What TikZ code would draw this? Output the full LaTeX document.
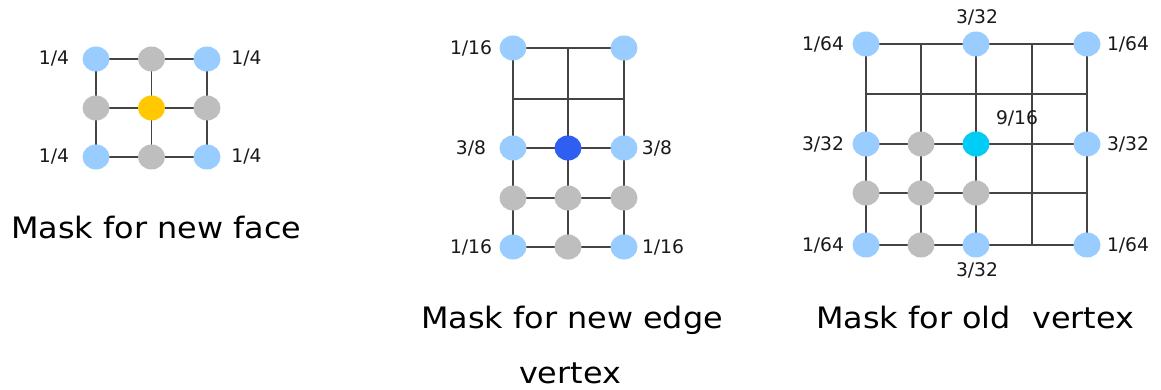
\documentclass[tikz,border=0pt]{standalone}
\usepackage{fontspec}
\setmainfont{DejaVu Sans}
\usetikzlibrary{shapes.geometric}
\definecolor{lb}{HTML}{99CCFF}
\definecolor{gr}{HTML}{BEBEBE}
\definecolor{og}{HTML}{FFC800}
\definecolor{db}{HTML}{2F5FF0}
\definecolor{cy}{HTML}{00CCF5}
\definecolor{ln}{HTML}{444444}
\newcommand{\captxt}[1]{\scalebox{1.08}[1]{#1}}
\begin{document}
\begin{tikzpicture}[x=1pt,y=-1pt,
  vtx/.style={ellipse,minimum width=27pt,minimum height=25pt,inner sep=0pt},
  bpt/.style={vtx,fill=lb},
  gpt/.style={vtx,fill=gr},
  opt/.style={vtx,fill=og},
  dpt/.style={vtx,fill=db},
  cpt/.style={vtx,fill=cy},
  gridline/.style={draw=ln,line width=1.8pt},
  lbl/.style={font=\fontsize{18.7}{22}\selectfont,text=black!90,inner sep=0pt},
  captext/.style={font=\fontsize{29.5}{34}\selectfont,inner sep=0pt,anchor=base west}]
\useasboundingbox (0,0) rectangle (1161,390);
% ---------- panel 1 ----------
\foreach \i/\x in {1/96,2/151.5,3/207}
  \foreach \j/\y in {1/59,2/108,3/157}
    \coordinate (f\i\j) at (\x,\y);
\foreach \j in {1,2,3} {\draw[gridline] (f1\j) -- (f3\j);}
\foreach \i in {1,2,3} {\draw[gridline] (f\i1) -- (f\i3);}
\node[bpt] (fn11) at (f11) {};
\node[gpt] (fn21) at (f21) {};
\node[bpt] (fn31) at (f31) {};
\node[gpt] (fn12) at (f12) {};
\node[opt] (fn22) at (f22) {};
\node[gpt] (fn32) at (f32) {};
\node[bpt] (fn13) at (f13) {};
\node[gpt] (fn23) at (f23) {};
\node[bpt] (fn33) at (f33) {};
\node[lbl] (fl1) at (54,59) {1/4};
\node[lbl] (fl2) at (246.5,59) {1/4};
\node[lbl] (fl3) at (54,157) {1/4};
\node[lbl] (fl4) at (246.5,157) {1/4};
\node[captext] (fcap) at (11,238) {\captxt{Mask for new face}};
% ---------- panel 2 ----------
\foreach \i/\x in {1/513,2/568,3/624}
  \foreach \j/\y in {1/48,2/99,3/148,4/198,5/247}
    \coordinate (e\i\j) at (\x,\y);
\foreach \j in {1,2,3,4,5} {\draw[gridline] (e1\j) -- (e3\j);}
\foreach \i in {1,2,3} {\draw[gridline] (e\i1) -- (e\i5);}
\node[bpt] (en11) at (e11) {};
\node[bpt] (en31) at (e31) {};
\node[bpt] (en13) at (e13) {};
\node[dpt] (en23) at (e23) {};
\node[bpt] (en33) at (e33) {};
\node[gpt] (en14) at (e14) {};
\node[gpt] (en24) at (e24) {};
\node[gpt] (en34) at (e34) {};
\node[bpt] (en15) at (e15) {};
\node[gpt] (en25) at (e25) {};
\node[bpt] (en35) at (e35) {};
\node[lbl] (el1) at (471,48) {1/16};
\node[lbl] (el2) at (471,148) {3/8};
\node[lbl] (el3) at (657,148) {3/8};
\node[lbl] (el4) at (471,247) {1/16};
\node[lbl] (el5) at (663,247) {1/16};
\node[captext] (ecap1) at (421,328) {\captxt{Mask for new edge}};
\node[captext,anchor=base] (ecap2) at (570,383) {\captxt{vertex}};
% ---------- panel 3 ----------
\foreach \i/\x in {1/866,2/921,3/976,4/1032,5/1087}
  \foreach \j/\y in {1/44,2/94,3/144,4/193,5/245}
    \coordinate (v\i\j) at (\x,\y);
\foreach \j in {1,2,3,4,5} {\draw[gridline] (v1\j) -- (v5\j);}
\foreach \i in {1,2,3,4,5} {\draw[gridline] (v\i1) -- (v\i5);}
\node[bpt] (vn11) at (v11) {};
\node[bpt] (vn31) at (v31) {};
\node[bpt] (vn51) at (v51) {};
\node[bpt] (vn13) at (v13) {};
\node[gpt] (vn23) at (v23) {};
\node[cpt] (vn33) at (v33) {};
\node[bpt] (vn53) at (v53) {};
\node[gpt] (vn14) at (v14) {};
\node[gpt] (vn24) at (v24) {};
\node[gpt] (vn34) at (v34) {};
\node[bpt] (vn15) at (v15) {};
\node[gpt] (vn25) at (v25) {};
\node[bpt] (vn35) at (v35) {};
\node[bpt] (vn55) at (v55) {};
\node[lbl] (vl1) at (823,44) {1/64};
\node[lbl] (vl2) at (977,17) {3/32};
\node[lbl] (vl3) at (1128,44) {1/64};
\node[lbl] (vl4) at (823,144) {3/32};
\node[lbl] (vl5) at (1017,118) {9/16};
\node[lbl] (vl6) at (1128,144) {3/32};
\node[lbl] (vl7) at (823,245) {1/64};
\node[lbl] (vl8) at (1128,245) {1/64};
\node[lbl] (vl9) at (977,270) {3/32};
\node[captext] (vcap) at (816,328) {\captxt{Mask for old\hspace{0.35em} vertex}};
\end{tikzpicture}
\end{document}
